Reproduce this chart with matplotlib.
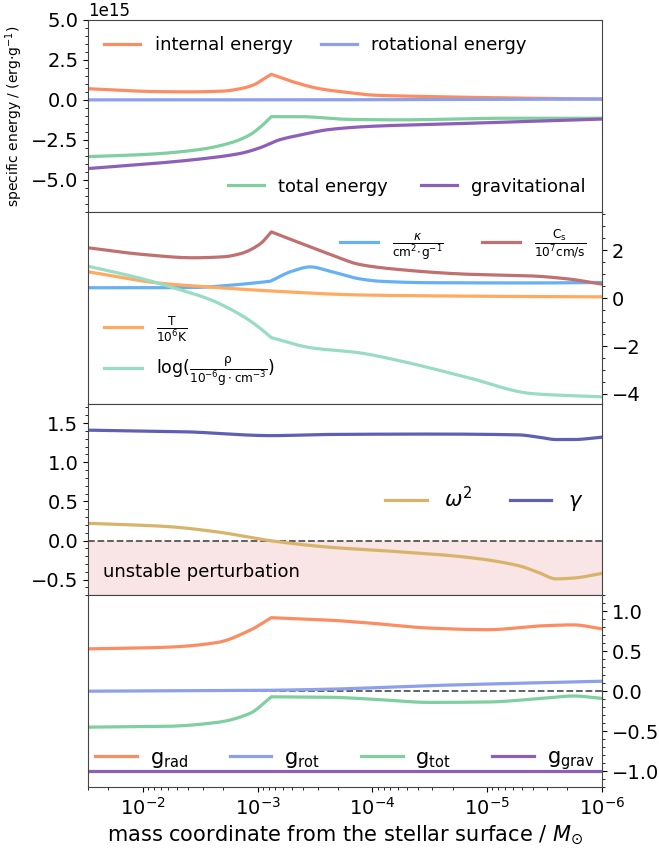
import numpy as np
import matplotlib
matplotlib.use("Agg")
import matplotlib.pyplot as plt
from matplotlib.ticker import AutoMinorLocator

# ---- data (log10 of mass coordinate, values) ----
# Panel 1: specific energies (units of 1e15 erg/g)
e_int_logm = [-1.52, -1.8, -2.1, -2.4, -2.7, -2.85, -2.97, -3.05, -3.12, -3.3, -3.54, -3.8, -4.0, -4.4, -4.68, -5.2, -6.0]
e_int_val = [0.7, 0.6, 0.52, 0.5, 0.55, 0.7, 0.95, 1.3, 1.6, 1.15, 0.7, 0.45, 0.3, 0.22, 0.18, 0.12, 0.05]
e_rot_logm = [-1.52, -3.0, -4.5, -6.0]
e_rot_val = [0.0, 0.0, 0.02, 0.05]
e_tot_logm = [-1.52, -2.06, -2.5, -2.76, -2.93, -3.04, -3.12, -3.37, -3.8, -4.24, -5.1, -6.0]
e_tot_val = [-3.55, -3.4, -3.1, -2.7, -2.2, -1.6, -1.05, -1.05, -1.22, -1.25, -1.15, -1.15]
e_grav_logm = [-1.52, -2.06, -2.5, -2.85, -3.02, -3.19, -3.37, -3.63, -4.0, -4.68, -5.35, -6.0]
e_grav_val = [-4.3, -4.0, -3.7, -3.35, -3.0, -2.5, -2.2, -1.85, -1.65, -1.5, -1.35, -1.2]

# Panel 2: structure quantities
cs_logm = [-1.52, -2.0, -2.44, -2.7, -2.85, -3.02, -3.12, -3.63, -3.89, -4.21, -4.8, -5.4, -5.7, -6.0]
cs_val = [2.1, 1.82, 1.68, 1.72, 1.85, 2.25, 2.76, 1.83, 1.4, 1.2, 1.0, 0.92, 0.8, 0.58]
kap_logm = [-1.52, -2.0, -2.44, -2.8, -3.11, -3.3, -3.46, -3.63, -3.89, -4.07, -4.5, -5.4, -6.0]
kap_val = [0.43, 0.43, 0.44, 0.55, 0.7, 1.12, 1.3, 1.12, 0.8, 0.7, 0.64, 0.63, 0.65]
t_logm = [-1.52, -2.15, -2.58, -3.1, -3.88, -4.8, -6.0]
t_val = [1.1, 0.62, 0.46, 0.3, 0.13, 0.08, 0.05]
rho_logm = [-1.52, -2.0, -2.3, -2.58, -2.87, -3.02, -3.12, -3.46, -3.88, -4.24, -4.82, -5.4, -6.0]
rho_val = [1.33, 0.8, 0.38, -0.05, -0.75, -1.25, -1.65, -2.07, -2.28, -2.62, -3.3, -3.99, -4.12]

# Panel 3: stability
gam_logm = [-1.52, -2.35, -3.12, -3.62, -4.5, -5.27, -5.45, -5.6, -5.75, -6.0]
gam_val = [1.41, 1.39, 1.34, 1.355, 1.36, 1.35, 1.32, 1.29, 1.29, 1.32]
om2_logm = [-1.52, -2.2, -2.65, -3.1, -3.62, -4.2, -4.8, -5.27, -5.45, -5.6, -5.75, -6.0]
om2_val = [0.22, 0.18, 0.11, 0.0, -0.085, -0.14, -0.21, -0.32, -0.41, -0.49, -0.48, -0.42]

# Panel 4: accelerations
grad_logm = [-1.52, -2.2, -2.65, -2.93, -3.12, -3.62, -4.0, -4.5, -5.0, -5.5, -5.75, -6.0]
grad_val = [0.53, 0.55, 0.61, 0.76, 0.92, 0.89, 0.85, 0.79, 0.77, 0.82, 0.83, 0.78]
grot_logm = [-1.52, -3.0, -3.62, -4.5, -6.0]
grot_val = [0.0, 0.01, 0.025, 0.07, 0.125]
gtot_logm = [-1.52, -2.2, -2.65, -2.93, -3.12, -3.62, -4.0, -4.5, -5.0, -5.55, -5.75, -6.0]
gtot_val = [-0.45, -0.44, -0.39, -0.28, -0.07, -0.075, -0.1, -0.14, -0.135, -0.08, -0.06, -0.09]
ggrav_logm = [-1.52, -6.0]
ggrav_val = [-1.0, -1.0]


def pchip(x, y, xx):
    x = np.asarray(x, float)
    y = np.asarray(y, float)
    h = np.diff(x)
    d = np.diff(y) / h
    n = len(x)
    m = np.zeros(n)
    if n == 2:
        m[:] = d[0]
    else:
        for k in range(1, n - 1):
            if d[k - 1] * d[k] <= 0:
                m[k] = 0.0
            else:
                w1 = 2 * h[k] + h[k - 1]
                w2 = h[k] + 2 * h[k - 1]
                m[k] = (w1 + w2) / (w1 / d[k - 1] + w2 / d[k])
        m[0] = d[0]
        m[-1] = d[-1]
    idx = np.clip(np.searchsorted(x, xx, side='right') - 1, 0, n - 2)
    t = (xx - x[idx]) / h[idx]
    h00 = 2 * t**3 - 3 * t**2 + 1
    h10 = t**3 - 2 * t**2 + t
    h01 = -2 * t**3 + 3 * t**2
    h11 = t**3 - t**2
    return h00 * y[idx] + h10 * h[idx] * m[idx] + h01 * y[idx + 1] + h11 * h[idx] * m[idx + 1]


def curve(logm, val, kinks=(), n=500):
    """Smooth monotone interpolation; curve is split (sharp corner) at kink logm values."""
    lm = -np.array(logm, float)
    v = np.array(val, float)
    cuts = [0] + [int(np.argmin(np.abs(lm + k))) for k in kinks] + [len(lm) - 1]
    xs, ys = [], []
    for a, b in zip(cuts[:-1], cuts[1:]):
        seg_x = lm[a:b + 1]
        seg_y = v[a:b + 1]
        npts = max(20, int(n * (seg_x[-1] - seg_x[0]) / (lm[-1] - lm[0])))
        xx = np.linspace(seg_x[0], seg_x[-1], npts)
        xs.append(xx)
        ys.append(pchip(seg_x, seg_y, xx))
    xx = np.concatenate(xs)
    yy = np.concatenate(ys)
    return 10 ** (-xx), yy


fig = plt.figure(figsize=(6.59, 8.5), dpi=100)
left, right, top, bottom = 0.1335, 0.9135, 0.9765, 0.074
h = (top - bottom) / 4
axes = []
for i in range(4):
    ax = fig.add_axes([left, top - (i + 1) * h, right - left, h],
                      sharex=axes[0] if axes else None)
    axes.append(ax)

lw = 2.3
FS_T = 14

c_int = '#fc8d62'
c_rot = '#8da0eb'
c_tot = '#7fcfa0'
c_grav = '#8e5fb8'

# ---- Panel 1 ----
ax = axes[0]
scale = 1e15
xx, yy = curve(e_int_logm, e_int_val, kinks=[-3.12])
l1, = ax.plot(xx, yy * scale, color=c_int, lw=lw, label='internal energy')
xx, yy = curve(e_rot_logm, e_rot_val)
l2, = ax.plot(xx, yy * scale, color=c_rot, lw=lw, label='rotational energy')
xx, yy = curve(e_tot_logm, e_tot_val, kinks=[-3.12])
l3, = ax.plot(xx, yy * scale, color=c_tot, lw=lw, label='total energy')
xx, yy = curve(e_grav_logm, e_grav_val)
l4, = ax.plot(xx, yy * scale, color=c_grav, lw=lw, label='gravitational')
ax.set_ylim(-7e15, 5e15)
ax.set_yticks(np.array([-5.0, -2.5, 0.0, 2.5, 5.0]) * scale)
ax.yaxis.set_minor_locator(AutoMinorLocator())
ax.set_ylabel(r'specific energy / (erg$\cdot$g$^{-1}$)', fontsize=10)
ax.yaxis.get_offset_text().set_fontsize(12)
leg1 = ax.legend(handles=[l1, l2], loc='upper left', ncol=2, frameon=False,
                 fontsize=13, handlelength=2.0, columnspacing=1.55)
ax.add_artist(leg1)
ax.legend(handles=[l3, l4], loc='lower right', ncol=2, frameon=False,
          fontsize=13, handlelength=2.0, columnspacing=1.8)

# ---- Panel 2 ----
ax = axes[1]
lk, = ax.plot(*curve(kap_logm, kap_val, kinks=[-3.11]), color='#66b0f5', lw=lw,
              label=r'$\frac{\kappa}{\mathrm{cm^2\!\cdot\!g^{-1}}}$')
lc, = ax.plot(*curve(cs_logm, cs_val, kinks=[-3.12]), color='#c07070', lw=lw,
              label=r'$\frac{\mathrm{C_s}}{10^7\mathrm{cm/s}}$')
lt, = ax.plot(*curve(t_logm, t_val), color='#ffaa60', lw=lw,
              label=r'$\frac{\mathrm{T}}{10^6\mathrm{K}}$')
lr, = ax.plot(*curve(rho_logm, rho_val, kinks=[-3.12]), color='#98dcc4', lw=lw,
              label=r'log($\frac{\mathrm{\rho}}{10^{-6}\mathrm{g\cdot cm^{-3}}}$)')
ax.set_ylim(-4.4, 3.6)
ax.set_yticks([-4, -2, 0, 2])
ax.yaxis.tick_right()
ax.yaxis.set_minor_locator(AutoMinorLocator())
leg2 = ax.legend(handles=[lk, lc], loc='upper right', ncol=2, frameon=False,
                 fontsize=12.5, handlelength=2.2, columnspacing=2.2)
ax.add_artist(leg2)
ax.legend(handles=[lt, lr], loc='lower left', ncol=1, frameon=False,
          fontsize=12.5, handlelength=2.2, labelspacing=0.6,
          bbox_to_anchor=(0.0, 0.0))

# ---- Panel 3 ----
ax = axes[2]
lo, = ax.plot(*curve(om2_logm, om2_val), color='#d8b46a', lw=lw, label=r'$\omega^2$')
lg, = ax.plot(*curve(gam_logm, gam_val), color='#5f5fb4', lw=lw, label=r'$\gamma$')
ax.axhspan(-0.7, 0.0, color='#f9e0e2', alpha=0.85, lw=0, zorder=0)
ax.axhline(0.0, color='#555555', ls='--', lw=1.3, zorder=1)
ax.text(0.03, 0.12, 'unstable perturbation', transform=ax.transAxes,
        fontsize=13, ha='left', va='center')
ax.set_ylim(-0.7, 1.75)
ax.set_yticks([-0.5, 0.0, 0.5, 1.0, 1.5])
ax.yaxis.set_minor_locator(AutoMinorLocator())
ax.legend(handles=[lo, lg], loc='center right', ncol=2, frameon=False,
          fontsize=15, handlelength=2.0, columnspacing=1.8)

# ---- Panel 4 ----
ax = axes[3]
ga, = ax.plot(*curve(grad_logm, grad_val, kinks=[-3.12]), color=c_int, lw=lw, label=r'$\mathrm{g_{rad}}$')
gb, = ax.plot(*curve(grot_logm, grot_val), color=c_rot, lw=lw, label=r'$\mathrm{g_{rot}}$')
gc, = ax.plot(*curve(gtot_logm, gtot_val, kinks=[-3.12]), color=c_tot, lw=lw, label=r'$\mathrm{g_{tot}}$')
gd, = ax.plot(*curve(ggrav_logm, ggrav_val), color=c_grav, lw=lw, label=r'$\mathrm{g_{grav}}$')
ax.axhline(0.0, color='#555555', ls='--', lw=1.3, zorder=1)
ax.set_ylim(-1.2, 1.2)
ax.set_yticks([-1.0, -0.5, 0.0, 0.5, 1.0])
ax.yaxis.tick_right()
ax.yaxis.set_minor_locator(AutoMinorLocator())
ax.legend(handles=[ga, gb, gc, gd], loc='lower center', ncol=4, frameon=False,
          fontsize=15, handlelength=2.0, columnspacing=2.0, handletextpad=0.6,
          bbox_to_anchor=(0.5, -0.02))

ax.set_xscale('log')
ax.set_xlim(3e-2, 1e-6)
ax.set_xlabel(r'mass coordinate from the stellar surface / $M_{\odot}$', fontsize=15)

for i, a in enumerate(axes):
    a.tick_params(axis='both', which='major', labelsize=FS_T)
    for s in a.spines.values():
        s.set_color('#444444')
    if i < 3:
        a.tick_params(axis='x', which='both', bottom=False, labelbottom=False)

fig.savefig('out.png', dpi=100)
